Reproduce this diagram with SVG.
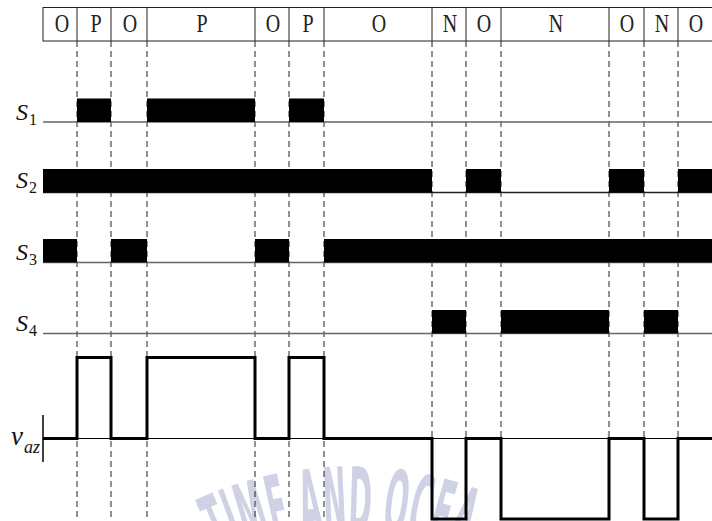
<svg xmlns="http://www.w3.org/2000/svg" width="712" height="521" viewBox="0 0 712 521">
<style>
.hdr{font-family:"Liberation Serif","Times New Roman",serif;font-size:25px;font-weight:normal;fill:#222;text-anchor:middle}
.lbl{font-family:"Liberation Serif","Times New Roman",serif;font-style:italic;fill:#111}
.cell{stroke:#222;stroke-width:1}
.dash{stroke:#222;stroke-width:1;stroke-dasharray:6,4}
.base{stroke:#666;stroke-width:1.3}
.bar{fill:#000}
.wave{fill:none;stroke:#000;stroke-width:3;stroke-linejoin:miter}
.wm{font-family:"DejaVu Sans Condensed","Liberation Sans Narrow","Liberation Sans",sans-serif;font-weight:bold;font-size:88px;fill:#cfd2e5}
</style>
<rect width="712" height="521" fill="#fff"/>
<g id="watermark">
<path id="wmarc" d="M153,602 A307,307 0 0 1 547,602" fill="none"/>
<text class="wm"><textPath href="#wmarc" startOffset="80" textLength="250" lengthAdjust="spacingAndGlyphs">TIME AND OCEA</textPath></text>
</g>
<g id="connectors">
<line class="dash" x1="77" y1="41" x2="77" y2="521"/>
<line class="dash" x1="111" y1="41" x2="111" y2="521"/>
<line class="dash" x1="147" y1="41" x2="147" y2="521"/>
<line class="dash" x1="255" y1="41" x2="255" y2="521"/>
<line class="dash" x1="289" y1="41" x2="289" y2="521"/>
<line class="dash" x1="324" y1="41" x2="324" y2="521"/>
<line class="dash" x1="432" y1="41" x2="432" y2="521"/>
<line class="dash" x1="466" y1="41" x2="466" y2="521"/>
<line class="dash" x1="501" y1="41" x2="501" y2="521"/>
<line class="dash" x1="609" y1="41" x2="609" y2="521"/>
<line class="dash" x1="644" y1="41" x2="644" y2="521"/>
<line class="dash" x1="678" y1="41" x2="678" y2="521"/>
</g>
<g id="header">
<rect x="43" y="7.5" width="672" height="33.5" fill="#fff" class="cell"/>
<line class="cell" x1="77" y1="7.5" x2="77" y2="41"/>
<line class="cell" x1="111" y1="7.5" x2="111" y2="41"/>
<line class="cell" x1="147" y1="7.5" x2="147" y2="41"/>
<line class="cell" x1="255" y1="7.5" x2="255" y2="41"/>
<line class="cell" x1="289" y1="7.5" x2="289" y2="41"/>
<line class="cell" x1="324" y1="7.5" x2="324" y2="41"/>
<line class="cell" x1="432" y1="7.5" x2="432" y2="41"/>
<line class="cell" x1="466" y1="7.5" x2="466" y2="41"/>
<line class="cell" x1="501" y1="7.5" x2="501" y2="41"/>
<line class="cell" x1="609" y1="7.5" x2="609" y2="41"/>
<line class="cell" x1="644" y1="7.5" x2="644" y2="41"/>
<line class="cell" x1="678" y1="7.5" x2="678" y2="41"/>
<text class="hdr" transform="translate(62,32) scale(0.8,1)">O</text>
<text class="hdr" transform="translate(96,32) scale(0.8,1)">P</text>
<text class="hdr" transform="translate(130,32) scale(0.8,1)">O</text>
<text class="hdr" transform="translate(202,32) scale(0.8,1)">P</text>
<text class="hdr" transform="translate(273,32) scale(0.8,1)">O</text>
<text class="hdr" transform="translate(308,32) scale(0.8,1)">P</text>
<text class="hdr" transform="translate(379,32) scale(0.8,1)">O</text>
<text class="hdr" transform="translate(450,32) scale(0.8,1)">N</text>
<text class="hdr" transform="translate(484,32) scale(0.8,1)">O</text>
<text class="hdr" transform="translate(556,32) scale(0.8,1)">N</text>
<text class="hdr" transform="translate(627,32) scale(0.8,1)">O</text>
<text class="hdr" transform="translate(662,32) scale(0.8,1)">N</text>
<text class="hdr" transform="translate(696,32) scale(0.8,1)">O</text>
</g>
<g id="S1">
<line class="base" x1="43" y1="122" x2="712" y2="122"/>
<rect class="bar" x="77" y="98.5" width="34" height="23.5"/>
<rect class="bar" x="147" y="98.5" width="108" height="23.5"/>
<rect class="bar" x="289" y="98.5" width="35" height="23.5"/>
<text class="lbl" x="16" y="120" font-size="24">S<tspan font-size="16" font-style="normal" dx="1" dy="5">1</tspan></text>
</g>
<g id="S2">
<line class="base" x1="43" y1="192.5" x2="712" y2="192.5" style="stroke:#222"/>
<rect class="bar" x="43" y="169" width="389" height="23.5"/>
<rect class="bar" x="466" y="169" width="35" height="23.5"/>
<rect class="bar" x="609" y="169" width="35" height="23.5"/>
<rect class="bar" x="678" y="169" width="34" height="23.5"/>
<text class="lbl" x="16" y="188" font-size="24">S<tspan font-size="16" font-style="normal" dx="1" dy="5">2</tspan></text>
</g>
<g id="S3">
<line class="base" x1="43" y1="262.5" x2="712" y2="262.5"/>
<rect class="bar" x="43" y="239" width="34" height="23.5"/>
<rect class="bar" x="111" y="239" width="36" height="23.5"/>
<rect class="bar" x="255" y="239" width="34" height="23.5"/>
<rect class="bar" x="324" y="239" width="388" height="23.5"/>
<text class="lbl" x="16" y="260" font-size="24">S<tspan font-size="16" font-style="normal" dx="1" dy="5">3</tspan></text>
</g>
<g id="S4">
<line class="base" x1="43" y1="333.5" x2="712" y2="333.5"/>
<rect class="bar" x="432" y="310" width="34" height="23.5"/>
<rect class="bar" x="501" y="310" width="108" height="23.5"/>
<rect class="bar" x="644" y="310" width="34" height="23.5"/>
<text class="lbl" x="16" y="331" font-size="24">S<tspan font-size="16" font-style="normal" dx="1" dy="5">4</tspan></text>
</g>
<g id="vaz">
<line x1="43" y1="438.5" x2="712" y2="438.5" stroke="#000" stroke-width="1.2"/>
<line x1="43" y1="415" x2="43" y2="462" stroke="#000" stroke-width="1.5"/>
<path class="wave" d="M43,438.5 H77 V357.5 H111 V438.5 H147 V357.5 H255 V438.5 H289 V357.5 H324 V438.5 H432 V519 H466 V438.5 H501 V519 H609 V438.5 H644 V519 H678 V438.5 H712"/>
<text class="lbl" x="11" y="445" font-size="27">v<tspan font-size="18" dx="1" dy="8">az</tspan></text>
</g>
</svg>
